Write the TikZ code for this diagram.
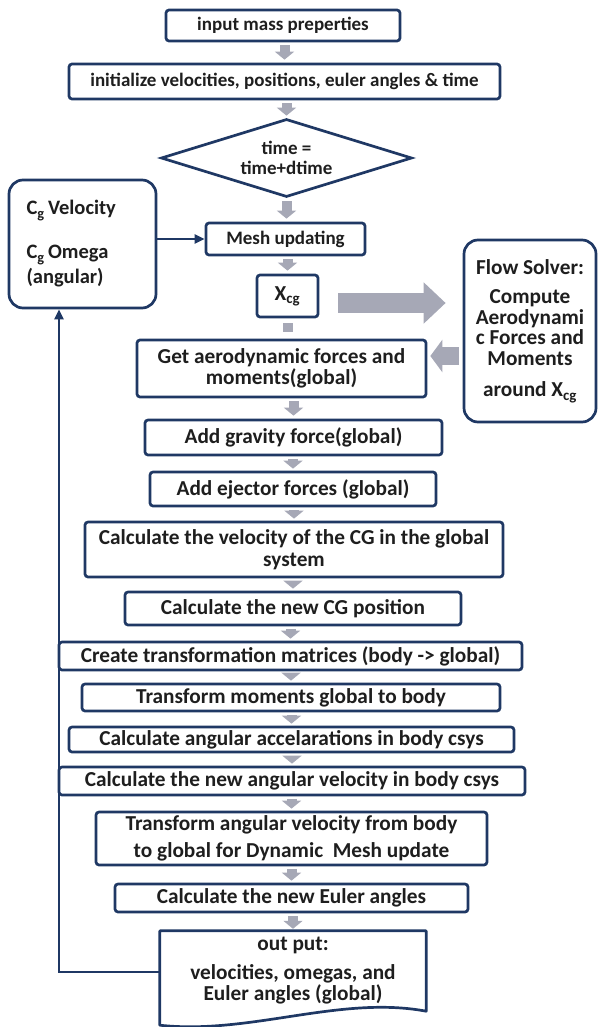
\documentclass[tikz,border=0pt]{standalone}
\usepackage{fontspec}
\setmainfont{Carlito}
\usetikzlibrary{arrows.meta,shapes.geometric,calc}
\definecolor{navy}{RGB}{31,56,100}
\definecolor{garr}{RGB}{166,168,182}
\definecolor{txt}{RGB}{30,30,30}
\begin{document}
\begin{tikzpicture}[x=1pt,y=-1pt,
  box/.style={draw=navy,line width=2.7pt,rounded corners=3pt,fill=white,align=center,text=txt,
    font=\fontsize{21.3}{21.5}\selectfont\bfseries,inner sep=0pt},
  smallbox/.style={box,font=\fontsize{19}{20}\selectfont\bfseries},
  bigbox/.style={box,rounded corners=14pt},
  garrow/.style={draw=garr,line width=10pt,-{Triangle[width=19pt,length=8pt]}},
  gstub/.style={draw=garr,line width=10pt},
  navyarrow/.style={draw=navy,line width=2.7pt,-{Triangle[width=9pt,length=10pt]}},
  txtnode/.style={align=center,text=txt,font=\fontsize{21.3}{21.5}\selectfont\bfseries,inner sep=0pt}]
\useasboundingbox (0,0) rectangle (597,1027);

\node[smallbox,minimum width=234pt,minimum height=31pt] (inp) at (283,25.5) {input mass preperties};
\node[smallbox,minimum width=431pt,minimum height=35pt] (init) at (284.5,81.5) {initialize velocities, positions, euler angles \& time};
\node[smallbox,diamond,rounded corners=0pt,aspect=3.2,minimum width=251pt,minimum height=78pt] (dec) at (286.5,158) {time =\\time+dtime};
\node[bigbox,font=\fontsize{20.5}{21}\selectfont\bfseries,minimum width=147pt,minimum height=128pt,text width=112pt,align=left] (cg) at (82.5,244)
  {C\textsubscript{g}\,Velocity\\[23pt] C\textsubscript{g}\,Omega\\[4pt] (angular)};
\node[smallbox,minimum width=159pt,minimum height=32pt] (mesh) at (285.5,239) {Mesh updating};
\node[box,minimum width=61pt,minimum height=42pt] (xcg) at (287.5,296) {X\textsubscript{cg}};
\node[bigbox,font=\fontsize{21.3}{20.5}\selectfont\bfseries,minimum width=132pt,minimum height=182pt] (flow) at (530,331)
  {Flow Solver:\\[9pt] Compute\\ Aerodynami\\ c Forces and\\ Moments\\[11pt] around X\textsubscript{cg}};
\node[box,minimum width=289pt,minimum height=57pt] (aero) at (281.5,368.5) {Get aerodynamic forces and\\ moments(global)};
\node[box,minimum width=297pt,minimum height=35pt] (grav) at (293.5,437.5) {Add gravity force(global)};
\node[box,minimum width=286pt,minimum height=34pt] (ejec) at (293,489) {Add ejector forces (global)};
\node[box,minimum width=418pt,minimum height=55pt] (vel) at (294,549.5) {Calculate the velocity of the CG in the global\\ system};
\node[box,minimum width=336pt,minimum height=33pt] (pos) at (293,608.5) {Calculate the new CG position};
\node[box,minimum width=463pt,minimum height=28pt] (mat) at (290.5,656) {Create transformation matrices (body -> global)};
\node[box,minimum width=418pt,minimum height=27pt] (mom) at (291,697.5) {Transform moments global to body};
\node[box,minimum width=445pt,minimum height=25pt] (acc) at (291.5,739.5) {Calculate angular accelarations in body csys};
\node[box,minimum width=466pt,minimum height=28pt] (angv) at (292,781) {Calculate the new angular velocity in body csys};
\node[box,minimum width=391pt,minimum height=53pt] (tang) at (291.5,838.5) {Transform angular velocity from body\\[6pt] to global for Dynamic\ \ Mesh update};
\node[box,minimum width=353pt,minimum height=28pt] (eul) at (291.5,898) {Calculate the new Euler angles};

% output document shape
\node[minimum width=266pt,minimum height=94pt,inner sep=0pt] (out) at (293,978) {};
\draw[navy,line width=2.7pt,line join=round] (out.north west) -- (out.north east) -- ([yshift=14pt]out.south east)
  .. controls (340,995) and (250,1035) .. (out.south west) -- cycle;
\node[txtnode] (outtxt) at (293,971) {out put:\\[7pt] velocities, omegas, and\\ Euler angles (global)};

% grey flow arrows
\draw[garrow] ([yshift=-3pt]inp.south -| init.north) -- ([yshift=3pt]init.north);
\draw[garrow] ([yshift=-3pt]init.south -| dec.north) -- ([yshift=2pt]dec.north);
\draw[garrow] ([yshift=-3pt]dec.south) -- ([yshift=3pt]dec.south |- mesh.north);
\draw[garrow] ([yshift=-3pt]mesh.south -| xcg.north) -- ([yshift=3pt]xcg.north);
\draw[gstub] ([yshift=-5pt]xcg.south) -- ([yshift=7pt]xcg.south |- aero.north);
\draw[garrow] ([yshift=-3pt]aero.south -| grav.north) -- ([yshift=3pt]grav.north);
\draw[garrow] ([yshift=-3pt]grav.south -| ejec.north) -- ([yshift=2pt]ejec.north);
\draw[garrow] ([yshift=-3pt]ejec.south -| vel.north) -- ([yshift=2pt]vel.north);
\draw[garrow] ([yshift=-3pt]vel.south -| pos.north) -- ([yshift=2pt]pos.north);
\draw[garrow] ([yshift=-3pt]pos.south -| mat.north) -- ([yshift=2pt]mat.north);
\draw[garrow] ([yshift=-3pt]mat.south -| mom.north) -- ([yshift=2pt]mom.north);
\draw[garrow] ([yshift=-3pt]mom.south -| acc.north) -- ([yshift=2pt]acc.north);
\draw[garrow] ([yshift=-3pt]acc.south -| angv.north) -- ([yshift=2pt]angv.north);
\draw[garrow] ([yshift=-3pt]angv.south -| tang.north) -- ([yshift=2pt]tang.north);
\draw[garrow] ([yshift=-3pt]tang.south -| eul.north) -- ([yshift=2pt]eul.north);
\draw[garrow] ([yshift=-3pt]eul.south -| out.north) -- ([yshift=2pt]out.north);

% big grey arrows to/from flow solver
\draw[draw=garr,line width=20pt,-{Triangle[width=40pt,length=22pt]}]
  ([xshift=19pt,yshift=-7pt]xcg.east) -- ([xshift=-17pt,yshift=-7pt]xcg.east -| flow.west);
\coordinate (la) at (0,356);
\draw[draw=garr,line width=18pt,-{Triangle[width=32pt,length=12pt]}]
  ([xshift=-4pt]la -| flow.west) -- ([xshift=3pt]la -| aero.east);

% navy connectors
\draw[navyarrow] (cg.east |- mesh.west) -- (mesh.west);
\coordinate (fb) at (59,972);
\draw[navyarrow] (fb -| out.west) -- (fb) -- (fb |- cg.south);
\end{tikzpicture}
\end{document}
